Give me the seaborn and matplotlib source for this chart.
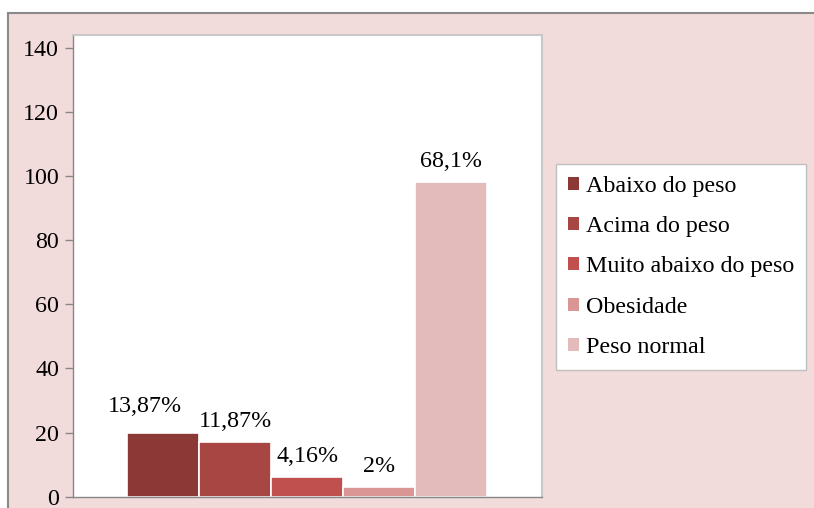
import matplotlib
matplotlib.use("Agg")
import matplotlib.pyplot as plt
import seaborn as sns
import pandas as pd
from matplotlib.patches import Patch, Rectangle

# ---- data ----
categorias = ["Abaixo do peso", "Acima do peso", "Muito abaixo do peso", "Obesidade", "Peso normal"]
valores = [20, 17, 6, 3, 98]
rotulos = ["13,87%", "11,87%", "4,16%", "2%", "68,1%"]
cores = ["#8C3836", "#A84644", "#C0504D", "#D99694", "#E2BBBA"]
yticks = [0, 20, 40, 60, 80, 100, 120, 140]

sns.set_style("white")
plt.rcParams["font.family"] = ["Liberation Serif", "DejaVu Serif"]

W, H = 814, 508
fig = plt.figure(figsize=(W / 100, H / 100), dpi=100)
fig.patch.set_facecolor("white")

# outer chart border (cropped at right/bottom)
fig.patches.append(Rectangle((8 / W, -0.05), 1.2, 1 - 13 / H + 0.05, transform=fig.transFigure,
                             facecolor="#F2DCDB", edgecolor="#8A8A8A", linewidth=1.5, zorder=-5))

ax = fig.add_axes([73 / W, 1 - 496.7 / H, (541.5 - 73) / W, (496.7 - 35) / H])
ax.set_facecolor("white")

df = pd.DataFrame({"grupo": [""] * len(categorias), "categoria": categorias, "valor": valores})
sns.barplot(data=df, x="grupo", y="valor", hue="categoria", hue_order=categorias,
            palette=cores, saturation=1, width=0.769, edgecolor="white", linewidth=1.2,
            errorbar=None, legend=False, ax=ax)

ax.set_xlim(-0.5, 0.5)
ax.set_ylim(0, 144)
ax.set_yticks(yticks)
ax.set_yticklabels([str(t) for t in yticks])
ax.set_xticks([])
ax.set_xlabel("")
ax.set_ylabel("")
ax.tick_params(axis="y", length=6, width=1, color="#868686", pad=4, labelsize=17.3, labelcolor="black", left=True)

for side in ["left", "bottom"]:
    ax.spines[side].set_color("#868686")
    ax.spines[side].set_linewidth(1)
for side in ["top", "right"]:
    ax.spines[side].set_color("#C8C8C8")
    ax.spines[side].set_linewidth(1.5)

# data labels
offsets = [(-13, 15), (0, 11), (0, 11), (0, 11), (0, 11)]
for cont, lab, off in zip(ax.containers, rotulos, offsets):
    bar = cont.patches[0]
    xc = bar.get_x() + bar.get_width() / 2
    ax.annotate(lab, (xc, bar.get_height()), xytext=off, textcoords="offset points",
                ha="center", va="baseline", fontsize=17.3, color="black")

handles = [Patch(facecolor=c, edgecolor="none") for c in cores]
leg = fig.legend(handles, categorias, loc="upper left", bbox_to_anchor=(556 / W, 1 - 164 / H),
                 frameon=True, fancybox=False, framealpha=1, fontsize=17.3, handlelength=0.45,
                 handleheight=0.45, handletextpad=0.3, labelspacing=0.8, borderpad=0.5,
                 borderaxespad=0)
leg.get_frame().set_edgecolor("#C0C0C0")
leg.get_frame().set_linewidth(1)
leg.get_frame().set_facecolor("white")
for t in leg.get_texts():
    t.set_color("black")

fig.savefig("out.png", dpi=100)
